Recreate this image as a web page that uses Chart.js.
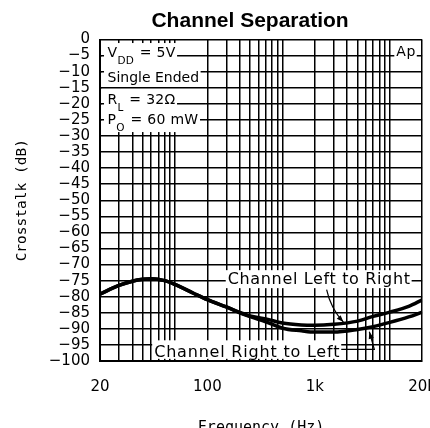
<!DOCTYPE html>
<html>
<head>
<meta charset="utf-8">
<script src="https://cdn.jsdelivr.net/npm/chart.js@4.4.1/dist/chart.umd.min.js"></script>
<style>
  html, body { margin: 0; padding: 0; background: #fff; overflow: hidden; }
</style>
</head>
<body>
<canvas id="sepChart" width="453" height="445"></canvas>
<script>
// measured curves (Hz / dB)
const freqs = [20, 30, 40, 50, 60, 80, 100, 150, 200, 300, 400, 500, 700, 1000, 1500, 2000, 3000, 5000, 7000, 10000, 15000, 20000];
const leftToRight = [-79.2, -76.5, -75.2, -74.6, -74.4, -75.0, -76.2, -79.0, -80.9, -83.2, -84.9, -86.0, -86.9, -88.2, -88.8, -88.9, -88.6, -87.6, -86.1, -84.8, -83.0, -81.0];
const rightToLeft = [-79.2, -76.5, -75.2, -74.6, -74.4, -75.0, -76.2, -79.0, -80.9, -83.2, -85.0, -86.2, -87.8, -89.8, -90.6, -91.0, -91.0, -90.2, -89.3, -88.0, -86.3, -84.8];

// axes
const gridFreqs = [20, 30, 40, 50, 60, 70, 80, 90, 100, 200, 300, 400, 500, 600, 700, 800, 900,
  1000, 2000, 3000, 4000, 5000, 6000, 7000, 8000, 9000, 10000, 20000];
const xLabelAt = [20, 200, 2000, 20000];
const xLabelText = ['20', '100', '1k', '20k'];
const dbMin = -100, dbMax = 0, dbStep = 5;

// test conditions block (top left)
const infoMain = ['V', 'Single Ended', 'R', 'P'];
const infoSub = ['DD', '', 'L', 'O'];
const infoRest = [' = 5V', '', ' = 32\u03A9', ' = 60 mW'];
const infoBaseDb = [-5.5, -13.2, -20.1, -26.3];

// labels and arrows
const ltrLabel = 'Channel Left to Right';
const rtlLabel = 'Channel Right to Left';
const ltrArrowFreq = [2580, 2810, 3700];
const ltrArrowDb = [-77.8, -83.6, -87.9];
const rtlArrowFreq = [7180, 6450];
const rtlArrowDb = [-96.4, -90.9];

const MINUS = '\u2212';
const black = '#000';

function arrowHead(ctx, fx, fy, tx, ty) {
    const a = Math.atan2(ty - fy, tx - fx);
    const len = 7, half = 2.6;
    ctx.beginPath();
    ctx.moveTo(tx, ty);
    ctx.lineTo(tx - len * Math.cos(a) + half * Math.sin(a), ty - len * Math.sin(a) - half * Math.cos(a));
    ctx.lineTo(tx - len * Math.cos(a) - half * Math.sin(a), ty - len * Math.sin(a) + half * Math.cos(a));
    ctx.closePath();
    ctx.fill();
}

function setFont(ctx, size, spacing) {
    ctx.font = size + 'px "DejaVu Sans"';
    ctx.letterSpacing = spacing + 'px';
}

const notesPlugin = {
    id: 'notes',
    beforeDatasetsDraw(chart) {
        const { ctx, chartArea, scales: { x, y } } = chart;
        const align = p => Math.round(p - 0.75) + 0.75;
        ctx.save();
        ctx.textBaseline = 'alphabetic';

        // white panel behind the conditions, then the horizontal rules again
        const left = chartArea.left + 1.5;
        const right = x.getPixelForValue(194);
        const top = y.getPixelForValue(-1.1);
        const bottom = y.getPixelForValue(-28.5);
        ctx.fillStyle = '#fff';
        ctx.fillRect(left, top, right - left, bottom - top);
        ctx.strokeStyle = black;
        ctx.lineWidth = 1.5;
        for (let v = -dbStep; v > -30; v -= dbStep) {
            const py = align(y.getPixelForValue(v));
            ctx.beginPath();
            ctx.moveTo(chartArea.left, py);
            ctx.lineTo(right, py);
            ctx.stroke();
        }

        const x0 = x.getPixelForValue(23.5);
        infoMain.forEach((main, i) => {
            const base = y.getPixelForValue(infoBaseDb[i]);
            setFont(ctx, 14, i === 1 ? 0 : 0.3);
            const w1 = ctx.measureText(main).width;
            setFont(ctx, 10.5, 0.2);
            const w2 = infoSub[i] ? ctx.measureText(infoSub[i]).width + 1 : 0;
            setFont(ctx, 14, 0.3);
            const w3 = infoRest[i] ? ctx.measureText(infoRest[i]).width : 0;
            ctx.fillStyle = '#fff';
            ctx.fillRect(x0 - 3.5, base - 13, w1 + w2 + w3 + 5, infoSub[i] ? 21 : 16);
            ctx.fillStyle = black;
            setFont(ctx, 14, i === 1 ? 0 : 0.3);
            ctx.fillText(main, x0, base);
            if (infoSub[i]) {
                setFont(ctx, 10.5, 0.2);
                ctx.fillText(infoSub[i], x0 + w1, base + 6.5);
                setFont(ctx, 14, 0.3);
                ctx.fillText(infoRest[i], x0 + w1 + w2, base);
            }
        });

        // "Ap" tag top right
        setFont(ctx, 14, 0.5);
        const apX = x.getPixelForValue(11500), apY = y.getPixelForValue(-5.1);
        const apW = ctx.measureText('Ap').width;
        ctx.fillStyle = '#fff';
        ctx.fillRect(apX - 2, apY - 12, apW + 3, 17);
        ctx.fillStyle = black;
        ctx.fillText('Ap', apX, apY);

        // curve labels
        setFont(ctx, 16, 0.65);
        ctx.textAlign = 'center';
        const lx = x.getPixelForValue(2200), ly = y.getPixelForValue(-76.1);
        const lw = ctx.measureText(ltrLabel).width;
        ctx.fillStyle = '#fff';
        ctx.fillRect(lx - lw / 2 - 2, ly - 14, lw + 3, 18);
        ctx.fillStyle = black;
        ctx.fillText(ltrLabel, lx, ly);

        setFont(ctx, 16, 0.8);
        const rx = x.getPixelForValue(470), ry = y.getPixelForValue(-98.7);
        const rw = ctx.measureText(rtlLabel).width;
        ctx.fillStyle = '#fff';
        ctx.fillRect(rx - rw / 2 - 2, ry - 16.5, rw + 3, 18.5);
        ctx.fillStyle = black;
        ctx.fillText(rtlLabel, rx, ry);

        // arrows
        ctx.lineWidth = 1.2;
        ctx.strokeStyle = black;
        const a = ltrArrowFreq.map((f, i) => [x.getPixelForValue(f), y.getPixelForValue(ltrArrowDb[i])]);
        ctx.beginPath();
        ctx.moveTo(a[0][0], a[0][1]);
        ctx.quadraticCurveTo(a[1][0], a[1][1], a[2][0], a[2][1]);
        ctx.stroke();
        arrowHead(ctx, a[1][0], a[1][1], a[2][0], a[2][1]);

        const b0x = rx + rw / 2 + 1;
        const b = rtlArrowFreq.map((f, i) => [x.getPixelForValue(f), y.getPixelForValue(rtlArrowDb[i])]);
        ctx.beginPath();
        ctx.moveTo(b0x, b[0][1]);
        ctx.lineTo(b[0][0], b[0][1]);
        ctx.lineTo(b[1][0], b[1][1]);
        ctx.stroke();
        arrowHead(ctx, b[0][0], b[0][1], b[1][0], b[1][1]);

        ctx.restore();
    },
    afterDraw(chart) {
        const { ctx, chartArea } = chart;
        ctx.save();
        ctx.font = 'bold 21px "Liberation Sans", Arial, sans-serif';
        ctx.fillStyle = black;
        ctx.textAlign = 'center';
        ctx.textBaseline = 'alphabetic';
        ctx.fillText('Channel Separation', (chartArea.left + chartArea.right) / 2 - 11, 27);
        ctx.restore();
    }
};

const canvas = document.getElementById('sepChart');
const ctx = canvas.getContext('2d');

const tickFont = { family: 'DejaVu Sans', size: 15 };
const titleFont = { family: 'DejaVu Sans Mono', size: 15 };

new Chart(ctx, {
    type: 'line',
    data: {
        datasets: [{
            label: 'Channel Left to Right',
            data: freqs.map((f, i) => ({ x: f, y: leftToRight[i] })),
            borderColor: black,
            borderWidth: 3.5,
            pointRadius: 0,
            fill: false,
            cubicInterpolationMode: 'monotone'
        }, {
            label: 'Channel Right to Left',
            data: freqs.map((f, i) => ({ x: f, y: rightToLeft[i] })),
            borderColor: black,
            borderWidth: 3.5,
            pointRadius: 0,
            fill: false,
            cubicInterpolationMode: 'monotone'
        }]
    },
    options: {
        responsive: false,
        animation: false,
        devicePixelRatio: 1,
        layout: { padding: { top: 39.5, right: 22, bottom: 0, left: 0 } },
        plugins: {
            legend: { display: false },
            tooltip: { enabled: false },
            title: { display: false }
        },
        scales: {
            x: {
                type: 'logarithmic',
                min: 20,
                max: 20000,
                afterBuildTicks: scale => {
                    scale.ticks = gridFreqs.map(v => ({ value: v }));
                },
                afterFit: scale => { scale.height = 84; },
                grid: { color: black, lineWidth: 1.5, drawTicks: false },
                border: { color: black, width: 2 },
                ticks: {
                    autoSkip: false,
                    maxRotation: 0,
                    padding: 17,
                    color: black,
                    font: tickFont,
                    callback: v => {
                        const k = xLabelAt.indexOf(v);
                        return k >= 0 ? xLabelText[k] : '';
                    }
                },
                title: {
                    display: true,
                    text: 'Frequency (Hz)',
                    color: black,
                    font: titleFont,
                    padding: { top: 0, bottom: 8 }
                }
            },
            y: {
                min: dbMin,
                max: dbMax,
                afterFit: scale => { scale.width = 100; },
                grid: { color: black, lineWidth: 1.5, drawTicks: false },
                border: { color: black, width: 2 },
                ticks: {
                    stepSize: dbStep,
                    autoSkip: false,
                    padding: 10,
                    color: black,
                    font: tickFont,
                    callback: v => (v === 0 ? '0' : MINUS + Math.abs(v))
                },
                title: {
                    display: true,
                    text: 'Crosstalk (dB)',
                    color: black,
                    font: { family: 'DejaVu Sans Mono', size: 14.5 },
                    padding: { top: 14, bottom: 0 }
                }
            }
        }
    },
    plugins: [notesPlugin]
});
</script>
</body>
</html>
